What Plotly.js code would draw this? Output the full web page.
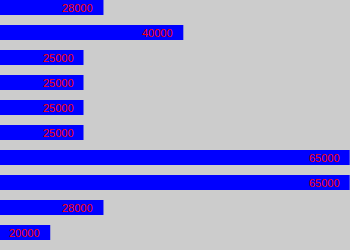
<!DOCTYPE html>
<html>
<head>
<meta charset="utf-8">
<script src="https://cdn.plot.ly/plotly-3.0.1.min.js"></script>
<style>
  html, body { margin: 0; padding: 0; background: #cccccc; }
  #chart { width: 350px; height: 250px; }
</style>
</head>
<body>
<div id="chart"></div>
<script>
// Salary values, top row first
const values = [28000, 40000, 25000, 25000, 25000, 25000, 65000, 65000, 28000, 20000];
const labels = values.map(v => String(v));
const rows = values.map((_, i) => i);

const barTrace = {
  type: 'bar',
  orientation: 'h',
  x: values,
  y: rows,
  width: 0.6,
  marker: { color: '#0000ff' },
  hoverinfo: 'skip'
};

// Value labels sit just inside the right end of each bar
const annotations = values.map((v, i) => ({
  x: v,
  y: rows[i],
  xref: 'x',
  yref: 'y',
  text: labels[i],
  showarrow: false,
  xanchor: 'right',
  yanchor: 'middle',
  xshift: -8,
  font: { family: 'Liberation Sans, Arial, sans-serif', size: 11, color: '#ff0000' }
}));

const layout = {
  width: 350,
  height: 250,
  margin: { l: 0, r: 0, t: 0, b: 0, pad: 0 },
  paper_bgcolor: '#cccccc',
  plot_bgcolor: '#cccccc',
  showlegend: false,
  xaxis: {
    range: [12450, 65050],
    visible: false,
    showgrid: false,
    zeroline: false,
    fixedrange: true
  },
  yaxis: {
    range: [9.7, -0.3],
    visible: false,
    showgrid: false,
    zeroline: false,
    fixedrange: true
  },
  annotations: annotations
};

Plotly.newPlot('chart', [barTrace], layout, { displayModeBar: false, staticPlot: true });
</script>
</body>
</html>
